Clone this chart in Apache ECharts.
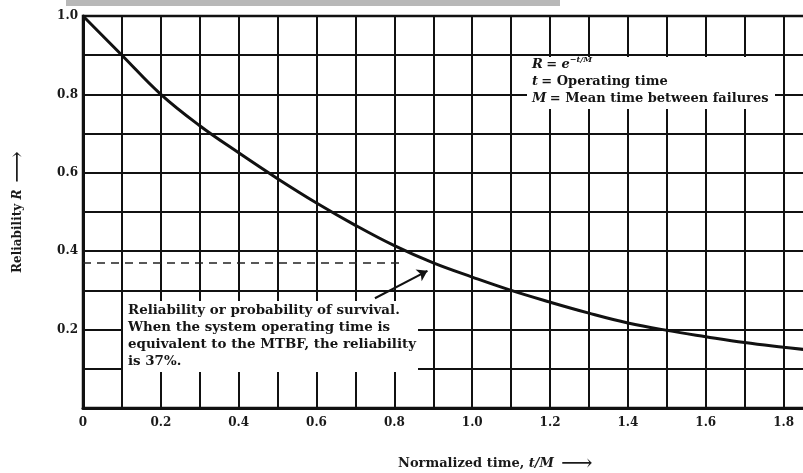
<!DOCTYPE html>
<html>
<head>
<meta charset="utf-8">
<script src="https://cdn.jsdelivr.net/npm/echarts@6/dist/echarts.min.js"></script>
<style>
  html, body { margin: 0; padding: 0; background: #fff; }
  #chart { width: 803px; height: 473px; }
</style>
</head>
<body>
<div id="chart"></div>
<script>
// normalized time t/M and the reliability
const timeValues = [0, 0.1, 0.2, 0.3, 0.4, 0.5, 0.6, 0.7, 0.8, 0.9, 1.0, 1.1, 1.2, 1.3, 1.4, 1.5, 1.6, 1.7, 1.8, 1.855];
const reliability = [1.0, 0.90, 0.80, 0.72, 0.651, 0.585, 0.523, 0.466, 0.414, 0.37, 0.334, 0.30, 0.27, 0.242, 0.217, 0.198, 0.182, 0.167, 0.155, 0.149];

// dashed 37 % level and the arrow pointing at the curve
const mtbfLevel = [[0, 0.37], [0.82, 0.37]];
const arrowStart = [0.75, 0.28];
const arrowEnd = [0.885, 0.35];

const xTickLabels = ['0', '0.2', '0.4', '0.6', '0.8', '1.0', '1.2', '1.4', '1.6', '1.8'];
const yTickLabels = ['0.2', '0.4', '0.6', '0.8', '1.0'];

const ink = '#111';
const serif = '"DejaVu Serif", "Liberation Serif", serif';

const chart = echarts.init(document.getElementById('chart'));

const option = {
    animation: false,
    backgroundColor: '#fff',
    grid: {
        left: 83, top: 16, right: -2, bottom: 65,
        containLabel: false,
        outerBoundsMode: 'none',
        show: true, borderColor: ink, borderWidth: 2.5, backgroundColor: 'transparent'
    },
    xAxis: {
        type: 'value',
        min: 0, max: 1.855, interval: 0.1,
        axisLine: { show: true, lineStyle: { color: ink, width: 3 } },
        axisTick: { show: false },
        splitLine: { show: true, lineStyle: { color: ink, width: 2 } },
        axisLabel: {
            margin: 9, color: '#1a1a1a', fontFamily: serif, fontWeight: 'bold', fontSize: 12,
            showMaxLabel: false,
            formatter: v => {
                const s = v === 0 ? '0' : v.toFixed(1);
                return xTickLabels.includes(s) ? s : '';
            }
        }
    },
    yAxis: {
        type: 'value',
        min: 0, max: 1, interval: 0.1,
        name: '{t|Reliability }{i|R}{a| \u27F6}',
        nameLocation: 'middle', nameGap: 54, nameRotate: 90,
        nameTextStyle: {
            color: '#1a1a1a',
            rich: {
                t: { fontFamily: serif, fontWeight: 'bold', fontSize: 12, color: '#1a1a1a' },
                i: { fontFamily: serif, fontWeight: 'bold', fontStyle: 'italic', fontSize: 12, color: '#1a1a1a' },
                a: { fontFamily: serif, fontSize: 22, color: '#1a1a1a' }
            }
        },
        axisLine: { show: true, lineStyle: { color: ink, width: 3 } },
        axisTick: { show: false },
        splitLine: { show: true, lineStyle: { color: ink, width: 2 } },
        axisLabel: {
            margin: 5, color: '#1a1a1a', fontFamily: serif, fontWeight: 'bold', fontSize: 12,
            formatter: v => {
                const s = v.toFixed(1);
                return yTickLabels.includes(s) ? s : '';
            }
        }
    },
    series: [
        {
            name: 'Reliability',
            type: 'line',
            data: timeValues.map((t, i) => [t, reliability[i]]),
            smooth: 0.4,
            symbol: 'none',
            z: 5,
            lineStyle: { color: ink, width: 3 }
        },
        {
            name: 'MTBF level',
            type: 'line',
            data: mtbfLevel,
            symbol: 'none',
            z: 5,
            lineStyle: { color: '#222', width: 1.5, type: [8, 6] },
            markLine: {
                silent: true,
                symbol: ['none', 'arrow'],
                symbolSize: 10,
                label: { show: false },
                lineStyle: { color: ink, width: 2, type: 'solid' },
                data: [[{ coord: arrowStart }, { coord: arrowEnd }]]
            }
        }
    ],
    graphic: [
        // grey scan band along the top edge
        { type: 'rect', left: 66, top: 0, shape: { width: 494, height: 6 }, style: { fill: '#b8b8b8' }, silent: true },
        // white patches where the printed text sits over the grid
        { type: 'rect', left: 123, top: 301, shape: { width: 295, height: 71 }, style: { fill: '#fff' }, z: 10 },
        { type: 'rect', left: 527, top: 57, shape: { width: 248, height: 52 }, style: { fill: '#fff' }, z: 10 },
        {
            type: 'text', left: 128, top: 302, z: 11,
            style: {
                text: 'Reliability or probability of survival.\nWhen the system operating time is\nequivalent to the MTBF, the reliability\nis 37%.',
                font: 'bold 13.4px ' + serif,
                fill: '#151515',
                lineHeight: 17
            }
        },
        {
            type: 'text', left: 532, top: 56, z: 11,
            style: {
                rich: {
                    i: { fontStyle: 'italic', fontWeight: 'bold', fontSize: 13, fontFamily: serif, fill: '#151515' },
                    n: { fontWeight: 'bold', fontSize: 13, fontFamily: serif, fill: '#151515' },
                    sup: { fontStyle: 'italic', fontWeight: 'bold', fontSize: 8, fontFamily: serif, fill: '#151515', verticalAlign: 'top' }
                },
                text: '{i|R} {n|= }{i|e}{sup|\u2212t/M}\n{i|t} {n|= Operating time}\n{i|M} {n|= Mean time between failures}',
                lineHeight: 17
            }
        },
        {
            type: 'text', left: 398, top: 453, z: 11,
            style: {
                rich: {
                    t: { fontFamily: serif, fontWeight: 'bold', fontSize: 13, fill: '#1a1a1a' },
                    i: { fontFamily: serif, fontWeight: 'bold', fontStyle: 'italic', fontSize: 13, fill: '#1a1a1a' },
                    a: { fontFamily: serif, fontSize: 22, fill: '#1a1a1a' }
                },
                text: '{t|Normalized time, }{i|t/M}{a| \u27F6}'
            }
        }
    ]
};

chart.setOption(option);
window.addEventListener('resize', () => chart.resize());
</script>
</body>
</html>
